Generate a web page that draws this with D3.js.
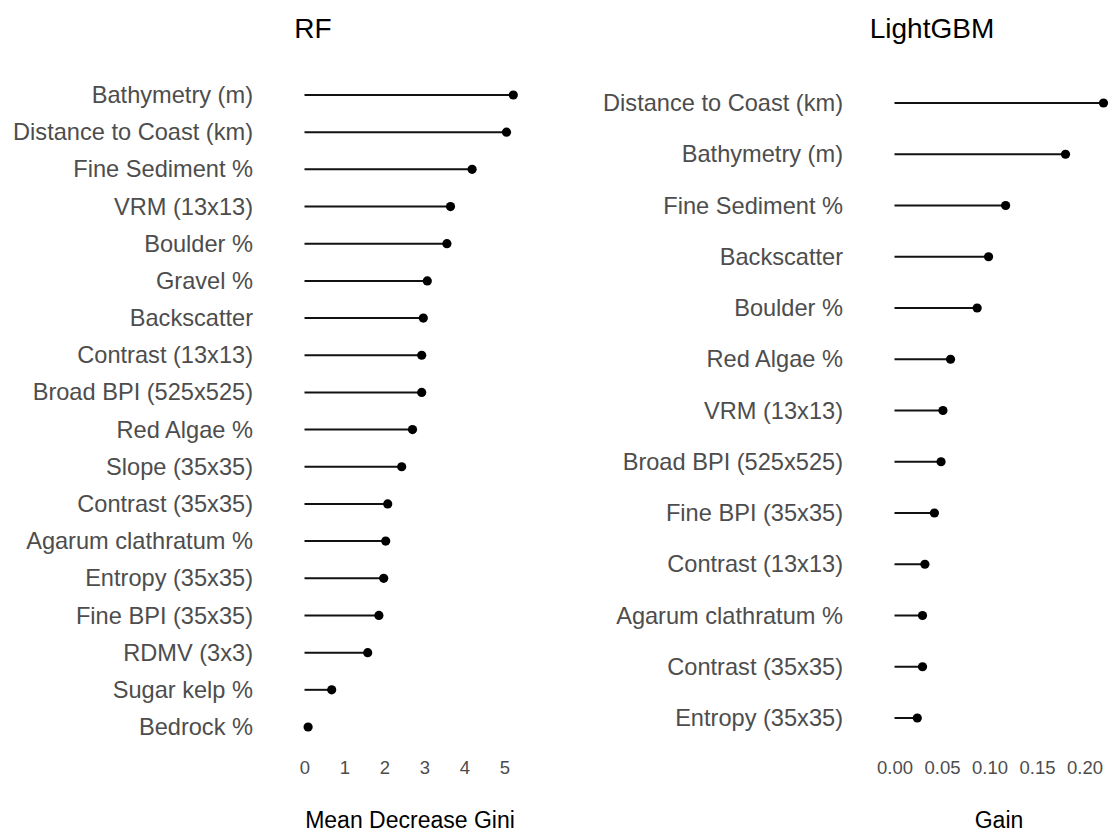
<!DOCTYPE html>
<html>
<head>
<meta charset="utf-8">
<script src="https://cdn.jsdelivr.net/npm/d3@7"></script>
<style>
  html, body { margin: 0; padding: 0; background: #ffffff; }
  svg { display: block; font-family: "Liberation Sans", Arial, sans-serif; }
</style>
</head>
<body>
<svg id="chart" width="1113" height="833"></svg>
<script>
// Random forest importance (mean decrease Gini), top to bottom
const rfFeatures = [
  "Bathymetry (m)", "Distance to Coast (km)", "Fine Sediment %", "VRM (13x13)",
  "Boulder %", "Gravel %", "Backscatter", "Contrast (13x13)", "Broad BPI (525x525)",
  "Red Algae %", "Slope (35x35)", "Contrast (35x35)", "Agarum clathratum %",
  "Entropy (35x35)", "Fine BPI (35x35)", "RDMV (3x3)", "Sugar kelp %", "Bedrock %"
];
const rfValues = [
  5.22, 5.05, 4.19, 3.65, 3.56, 3.07, 2.97, 2.93, 2.93,
  2.70, 2.43, 2.08, 2.03, 1.98, 1.86, 1.58, 0.68, 0.09
];
const rfTicks = [0, 1, 2, 3, 4, 5];

// LightGBM importance (gain), top to bottom
const lgbFeatures = [
  "Distance to Coast (km)", "Bathymetry (m)", "Fine Sediment %", "Backscatter",
  "Boulder %", "Red Algae %", "VRM (13x13)", "Broad BPI (525x525)", "Fine BPI (35x35)",
  "Contrast (13x13)", "Agarum clathratum %", "Contrast (35x35)", "Entropy (35x35)"
];
const lgbValues = [
  0.220, 0.180, 0.117, 0.099, 0.087, 0.059, 0.051, 0.049, 0.042,
  0.032, 0.0295, 0.0295, 0.024
];
const lgbTicks = [0, 0.05, 0.10, 0.15, 0.20];

const svg = d3.select("#chart");
const FONT = "Liberation Sans, Arial, sans-serif";

function lollipopPanel(cfg) {
  const g = svg.append("g");
  const x = d3.scaleLinear().domain(cfg.xDomain).range(cfg.xRange);
  const y = d3.scalePoint().domain(cfg.features).range(cfg.yRange);
  const rows = cfg.features.map((f, i) => ({ f, v: cfg.values[i] }));

  // stems
  g.selectAll("line.stem").data(rows).join("line")
    .attr("class", "stem")
    .attr("x1", x(0)).attr("x2", d => x(d.v))
    .attr("y1", d => y(d.f)).attr("y2", d => y(d.f))
    .attr("stroke", "#111").attr("stroke-width", 2);

  // heads
  g.selectAll("circle.head").data(rows).join("circle")
    .attr("class", "head")
    .attr("cx", d => x(d.v)).attr("cy", d => y(d.f))
    .attr("r", 4.6).attr("fill", "#000");

  // feature labels
  const yAxis = g.append("g")
    .attr("transform", `translate(${cfg.labelX},0)`)
    .call(d3.axisLeft(y).tickSize(0).tickPadding(0));
  yAxis.select(".domain").remove();
  yAxis.selectAll("text")
    .attr("font-size", 23.6).attr("fill", "#4d4d4d")
    .attr("font-family", FONT);

  // value ticks
  const xAxis = g.append("g")
    .attr("transform", `translate(0,${cfg.tickY})`)
    .call(d3.axisBottom(x).tickValues(cfg.ticks).tickFormat(cfg.fmt).tickSize(0).tickPadding(0));
  xAxis.select(".domain").remove();
  xAxis.selectAll("text")
    .attr("font-size", 18.5).attr("fill", "#4d4d4d")
    .attr("font-family", FONT);

  // panel title and axis title
  g.append("text")
    .attr("x", cfg.titleX).attr("y", 38)
    .attr("text-anchor", "middle").attr("font-size", 28).attr("fill", "#000")
    .text(cfg.title);
  g.append("text")
    .attr("x", cfg.axisTitleX).attr("y", 828)
    .attr("text-anchor", "middle").attr("font-size", 23).attr("fill", "#000")
    .text(cfg.axisTitle);
}

lollipopPanel({
  title: "RF", titleX: 313,
  features: rfFeatures, values: rfValues, ticks: rfTicks, fmt: d3.format("d"),
  xDomain: [0, 5], xRange: [304.5, 504.5],
  yRange: [95, 727], labelX: 253, tickY: 761,
  axisTitle: "Mean Decrease Gini", axisTitleX: 410
});

lollipopPanel({
  title: "LightGBM", titleX: 932,
  features: lgbFeatures, values: lgbValues, ticks: lgbTicks, fmt: d3.format(".2f"),
  xDomain: [0, 0.2], xRange: [894.5, 1084.5],
  yRange: [103, 718], labelX: 843, tickY: 761,
  axisTitle: "Gain", axisTitleX: 999
});
</script>
</body>
</html>
